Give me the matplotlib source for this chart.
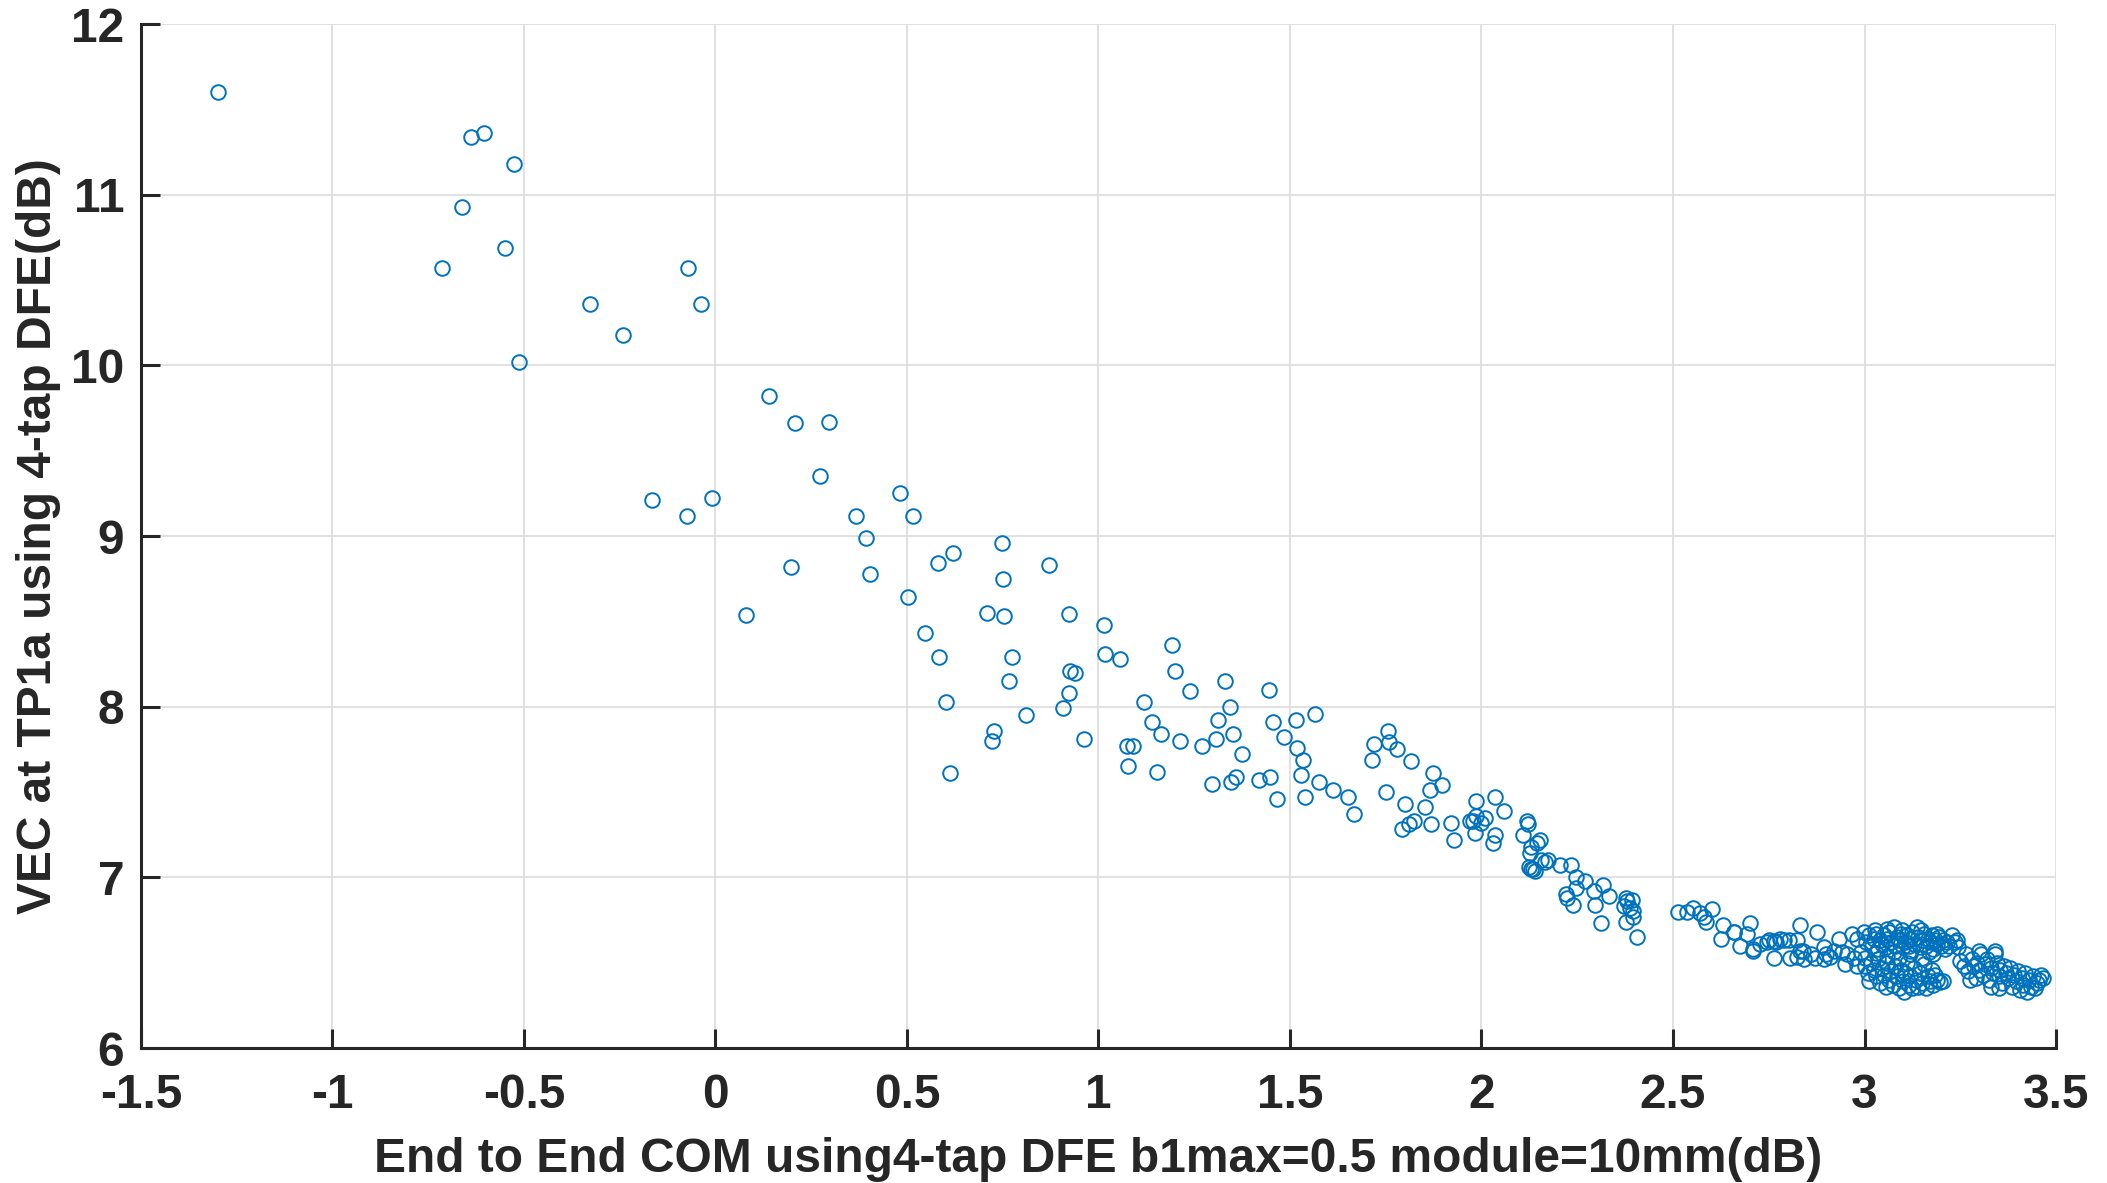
import numpy as np
import matplotlib.pyplot as plt

plt.rcParams['font.family'] = ['Liberation Sans', 'DejaVu Sans']
plt.rcParams['font.weight'] = 'bold'

# sparse upper-left part
x_sparse = [-1.298, -0.639, -0.605, -0.526, -0.663, -0.55, -0.714, -0.072, -0.327, -0.037,
            -0.241, -0.514, 0.14, 0.207, 0.296, 0.272, -0.166, -0.075, -0.009, 0.481,
            0.367, 0.517, 0.393, 0.747, 0.62, 0.58, 0.872, 0.198, 0.403, 0.752,
            0.503, 0.08, 0.709, 0.754, 0.924, 1.014, 0.548, 1.191, 1.016, 1.056,
            0.583, 0.773, 0.925, 0.939, 1.199, 0.767, 1.331, 1.239, 1.446, 0.922,
            0.601, 1.119, 1.343, 0.908, 0.81, 1.311, 1.456, 1.516, 1.139, 1.162,
            1.35, 0.728, 0.723, 0.962, 1.213, 1.269, 1.307, 1.485, 1.075, 1.089,
            1.374, 1.517, 1.534, 1.078, 1.153, 1.296, 1.346, 1.359, 1.42, 1.449,
            1.529, 1.467, 1.540, 0.613, 1.564, 1.577, 1.611, 1.652, 1.666]
y_sparse = [11.60, 11.34, 11.36, 11.18, 10.93, 10.69, 10.57, 10.57, 10.36, 10.36,
            10.18, 10.02, 9.82, 9.66, 9.67, 9.35, 9.21, 9.12, 9.22, 9.25,
            9.12, 9.12, 8.99, 8.96, 8.90, 8.84, 8.83, 8.82, 8.78, 8.75,
            8.64, 8.54, 8.55, 8.53, 8.545, 8.48, 8.43, 8.36, 8.31, 8.28,
            8.29, 8.29, 8.21, 8.20, 8.21, 8.15, 8.15, 8.09, 8.10, 8.08,
            8.03, 8.03, 8.0, 7.99, 7.95, 7.92, 7.91, 7.92, 7.91, 7.84,
            7.84, 7.86, 7.80, 7.81, 7.80, 7.77, 7.81, 7.82, 7.77, 7.77,
            7.72, 7.76, 7.69, 7.65, 7.62, 7.545, 7.56, 7.59, 7.57, 7.59,
            7.60, 7.46, 7.47, 7.61, 7.955, 7.56, 7.51, 7.47, 7.37]

# middle part
x_mid = [1.755, 1.719, 1.759, 1.780, 1.715, 1.817, 1.873, 1.898, 1.866, 1.75,
         1.799, 1.853, 1.793, 1.81, 1.825, 1.867, 1.92, 1.928, 1.986, 2.034,
         2.06, 1.986, 2.01, 1.969, 1.979, 2.0, 1.982, 2.036, 2.031, 2.12,
         2.122, 2.109, 2.153, 2.146, 2.129, 2.127, 2.124, 2.128, 2.134, 2.14,
         2.155, 2.173, 2.166, 2.205, 2.233, 2.246, 2.269, 2.248, 2.22, 2.224,
         2.239, 2.295, 2.316, 2.332, 2.297, 2.311, 2.377, 2.392, 2.372, 2.388,
         2.396, 2.377, 2.405, 2.38, 2.395]
y_mid = [7.86, 7.78, 7.795, 7.75, 7.69, 7.68, 7.61, 7.54, 7.51, 7.50,
         7.43, 7.41, 7.285, 7.31, 7.33, 7.31, 7.32, 7.22, 7.45, 7.47,
         7.39, 7.36, 7.35, 7.33, 7.33, 7.32, 7.26, 7.25, 7.20, 7.33,
         7.31, 7.25, 7.22, 7.20, 7.18, 7.14, 7.06, 7.05, 7.05, 7.04,
         7.10, 7.10, 7.09, 7.07, 7.07, 7.0, 6.98, 6.94, 6.90, 6.88,
         6.84, 6.92, 6.955, 6.89, 6.84, 6.73, 6.88, 6.87, 6.83, 6.82,
         6.77, 6.74, 6.65, 6.86, 6.80]

# band between 2.5 and 3
x_band = [2.512, 2.537, 2.552, 2.571, 2.582, 2.587, 2.603, 2.631, 2.625, 2.66,
          2.693, 2.702, 2.676, 2.709, 2.728, 2.745, 2.763, 2.78, 2.802, 2.824,
          2.765, 2.805, 2.824, 2.832, 2.843, 2.831, 2.876, 2.872, 2.895, 2.911,
          2.92, 2.895, 2.933, 2.954, 2.972, 2.95, 2.98, 2.967, 2.998, 2.98,
          2.75, 2.77, 2.79, 2.86, 2.94, 2.99, 2.658, 2.71, 2.84, 2.9]
y_band = [6.795, 6.795, 6.82, 6.79, 6.77, 6.74, 6.815, 6.72, 6.64, 6.68,
          6.67, 6.73, 6.60, 6.58, 6.61, 6.62, 6.625, 6.64, 6.63, 6.63,
          6.53, 6.53, 6.535, 6.57, 6.52, 6.72, 6.68, 6.53, 6.52, 6.535,
          6.57, 6.59, 6.64, 6.55, 6.53, 6.49, 6.48, 6.67, 6.68, 6.64,
          6.63, 6.62, 6.63, 6.55, 6.56, 6.56, 6.68, 6.57, 6.57, 6.55]

# dense cluster 3 - 3.25, upper
x_up = [3.005, 3.012, 3.02, 3.025, 3.03, 3.035, 3.04, 3.045, 3.05, 3.055,
        3.06, 3.065, 3.07, 3.076, 3.08, 3.085, 3.09, 3.095, 3.1, 3.105,
        3.11, 3.115, 3.12, 3.125, 3.13, 3.137, 3.14, 3.145, 3.15, 3.155,
        3.16, 3.165, 3.17, 3.175, 3.18, 3.185, 3.19, 3.195, 3.2, 3.205,
        3.21, 3.215, 3.22, 3.228, 3.235, 3.241, 3.245, 3.058, 3.098, 3.148,
        3.188, 3.118, 3.168, 3.078, 3.028]
y_up = [6.62, 6.66, 6.60, 6.64, 6.67, 6.58, 6.63, 6.61, 6.66, 6.59,
        6.64, 6.68, 6.62, 6.71, 6.60, 6.65, 6.63, 6.67, 6.59, 6.62,
        6.66, 6.60, 6.64, 6.68, 6.61, 6.71, 6.65, 6.59, 6.63, 6.67,
        6.60, 6.64, 6.62, 6.66, 6.58, 6.63, 6.61, 6.65, 6.60, 6.63,
        6.58, 6.62, 6.60, 6.66, 6.62, 6.63, 6.59, 6.70, 6.69, 6.69,
        6.67, 6.57, 6.56, 6.56, 6.69]

# dense cluster 3 - 3.2, lower
x_low = [3.0, 3.008, 3.011, 3.018, 3.025, 3.03, 3.035, 3.04, 3.045, 3.05,
         3.055, 3.06, 3.065, 3.07, 3.075, 3.08, 3.085, 3.09, 3.095, 3.1,
         3.102, 3.105, 3.11, 3.115, 3.12, 3.125, 3.13, 3.135, 3.14, 3.145,
         3.15, 3.155, 3.16, 3.165, 3.17, 3.175, 3.18, 3.185, 3.19, 3.198,
         3.205, 3.06, 3.09, 3.12, 3.15, 3.18, 3.03, 3.0]
y_low = [6.48, 6.44, 6.395, 6.50, 6.46, 6.42, 6.52, 6.38, 6.47, 6.43,
         6.36, 6.50, 6.40, 6.45, 6.37, 6.48, 6.42, 6.35, 6.46, 6.39,
         6.33, 6.44, 6.50, 6.37, 6.42, 6.35, 6.47, 6.40, 6.36, 6.44,
         6.38, 6.49, 6.35, 6.42, 6.39, 6.46, 6.37, 6.43, 6.40, 6.385,
         6.39, 6.54, 6.53, 6.55, 6.53, 6.55, 6.555, 6.53]

# right cluster
x_right = [3.25, 3.26, 3.265, 3.27, 3.28, 3.285, 3.29, 3.295, 3.30, 3.305,
           3.31, 3.315, 3.32, 3.325, 3.33, 3.335, 3.34, 3.345, 3.35, 3.355,
           3.36, 3.365, 3.37, 3.375, 3.38, 3.385, 3.39, 3.395, 3.40, 3.405,
           3.41, 3.415, 3.42, 3.425, 3.43, 3.435, 3.44, 3.445, 3.455, 3.462,
           3.466, 3.45, 3.35, 3.298, 3.342, 3.276, 3.329]
y_right = [6.51, 6.48, 6.55, 6.45, 6.52, 6.48, 6.41, 6.50, 6.46, 6.55,
           6.43, 6.49, 6.52, 6.40, 6.47, 6.44, 6.55, 6.50, 6.42, 6.46,
           6.38, 6.48, 6.44, 6.41, 6.47, 6.36, 6.43, 6.39, 6.45, 6.34,
           6.41, 6.37, 6.44, 6.33, 6.40, 6.36, 6.42, 6.35, 6.40, 6.43,
           6.41, 6.38, 6.35, 6.57, 6.57, 6.40, 6.355]

x = x_sparse + x_mid + x_band + x_up + x_low + x_right
y = y_sparse + y_mid + y_band + y_up + y_low + y_right

txt = '#262626'
fig = plt.figure(figsize=(21.07, 11.83), dpi=100)
ax = fig.add_axes([0.0669, 0.1141, 0.9089, 0.8656])
ax.plot(x, y, 'o', mfc='none', mec='#0072BD', ms=10.5, mew=1.4, linestyle='none')

ax.set_xlim(-1.5, 3.5)
ax.set_ylim(6, 12)
ax.set_xticks(np.arange(-1.5, 3.51, 0.5))
ax.set_xticklabels(['-1.5', '-1', '-0.5', '0', '0.5', '1', '1.5', '2', '2.5', '3', '3.5'])
ax.set_yticks(np.arange(6, 12.1, 1))
ax.grid(True, color='#dcdcdc', linewidth=1.2)
ax.set_axisbelow(True)
for s in ['top', 'right']:
    ax.spines[s].set_visible(False)
for s in ['left', 'bottom']:
    ax.spines[s].set_color(txt)
    ax.spines[s].set_linewidth(2.2)
ax.tick_params(direction='in', length=14, width=2.2, colors=txt, labelsize=34.5)
ax.tick_params(axis='x', pad=18)
ax.tick_params(axis='y', pad=12)
ax.set_xlabel('End to End COM using4-tap DFE b1max=0.5 module=10mm(dB)', fontsize=34.5,
              fontweight='bold', color=txt, labelpad=14)
ax.set_ylabel('VEC at TP1a using 4-tap DFE(dB)', fontsize=34.5, fontweight='bold',
              color=txt, labelpad=7)

plt.savefig('out.png', dpi=100)
